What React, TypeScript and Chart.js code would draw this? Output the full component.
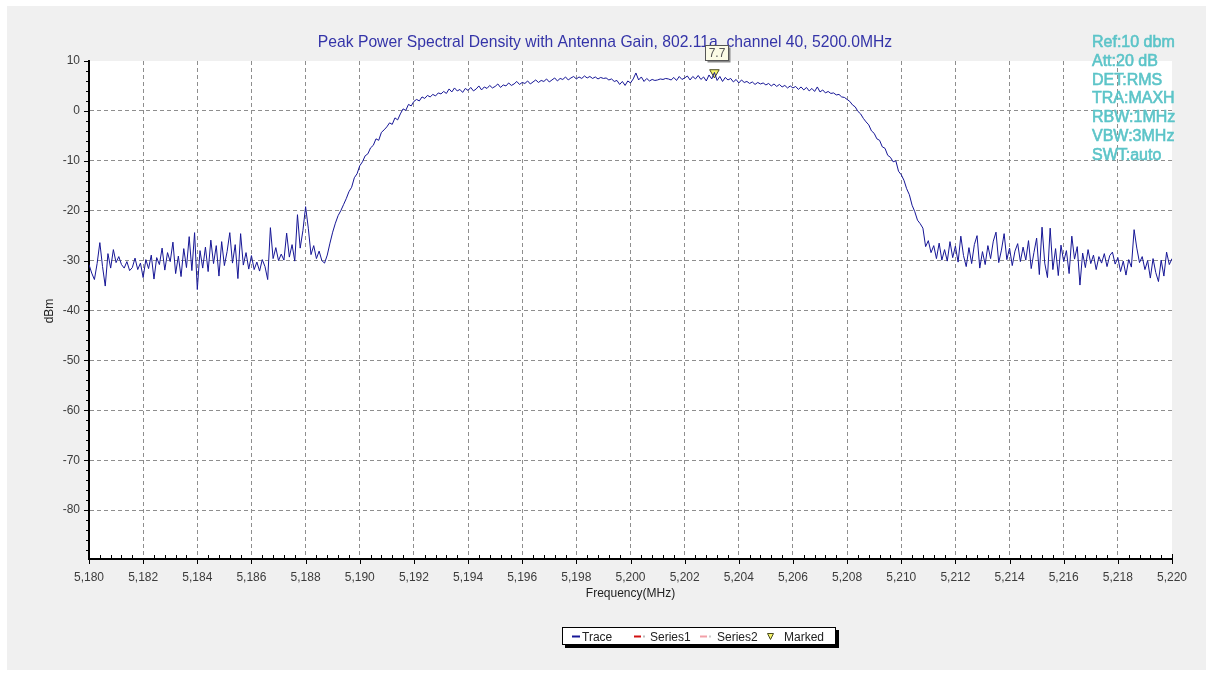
import React, { useEffect, useRef } from "react";
import { Chart, registerables } from "chart.js";

Chart.register(...registerables);

// ---------------- DATA ----------------
const FREQ_START = 5180; // MHz, first sweep point
const FREQ_STEP = 0.1; // MHz between sweep points

// 5180.0 – 5188.9 MHz (out-of-band noise, left)
const spurBandLeft = [
  -30.8, -32.5, -33.8, -30.6, -26.4, -31.2, -35.1, -28.6, -31.5, -27.8,
  -30.4, -29.2, -30.8, -31.5, -30.2, -32.0, -31.4, -29.5, -31.8, -30.5,
  -33.4, -29.8, -31.6, -28.9, -33.7, -29.4, -30.8, -27.5, -31.9, -28.4,
  -30.2, -26.3, -32.6, -29.1, -33.2, -27.6, -31.4, -25.2, -32.0, -24.4,
  -35.8, -28.0, -31.5, -27.3, -32.2, -25.9, -30.6, -27.0, -33.1, -26.2,
  -31.0, -28.2, -24.4, -30.5, -26.8, -33.6, -24.6, -30.9, -28.4, -31.7,
  -29.0, -31.8, -30.3, -32.1, -29.8, -31.2, -33.8, -23.4, -29.6, -27.4,
  -30.0, -28.7, -29.9, -24.5, -29.3, -26.8, -30.1, -20.8, -27.5, -24.0,
  -19.2, -23.5, -28.8, -27.0, -29.6, -28.1, -30.0, -30.5, -28.9, -26.5,
];

// 5189.0 – 5192.0 MHz (rising edge)
const risingEdge = [
  -24.3, -22.5, -21.0, -20.0, -18.8, -17.6, -16.2, -15.3, -13.4, -12.6,
  -11.0, -10.2, -9.0, -8.6, -7.4, -6.9, -5.6, -5.9, -4.3, -3.8,
  -3.2, -2.4, -2.7, -1.4, -1.8, -0.6, 0.4, 0.1, 1.3, 1.0,
  1.9,
];

// 5192.1 – 5208.0 MHz (in-band)
const inBand = [
  2.3, 2.0, 2.8, 2.5, 3.1, 2.8, 3.3, 3.0, 3.6, 3.4,
  3.9, 3.5, 4.4, 3.8, 4.6, 4.0, 4.3, 3.7, 4.5, 4.1,
  4.7, 4.0, 4.4, 5.0, 4.2, 4.8, 4.5, 5.1, 4.6, 4.9,
  5.4, 4.7, 5.2, 5.0, 5.6, 5.1, 5.4, 5.9, 5.3, 5.7,
  5.5, 6.0, 5.4, 5.8, 6.2, 5.7, 6.1, 5.9, 6.4, 5.8,
  6.2, 6.6, 6.0, 6.5, 6.3, 6.8, 6.2, 6.6, 6.9, 6.4,
  6.8, 6.5, 7.0, 6.6, 6.9, 6.5, 6.8, 6.4, 6.7, 6.5,
  6.6, 6.2, 6.4, 5.9, 6.1, 5.3, 5.9, 5.1, 6.0, 5.6,
  6.4, 7.6, 6.2, 6.8, 5.9, 6.5, 6.0, 6.3, 6.1, 6.2,
  6.4, 6.3, 6.5, 6.4, 6.2, 6.7, 6.1, 6.9, 6.3, 6.6,
  7.0, 6.2, 6.9, 6.4, 7.1, 6.3, 6.8, 6.0, 7.2, 6.4,
  7.7, 6.1, 6.9, 5.9, 6.7, 6.2, 6.5, 5.8, 6.3, 5.6,
  6.2, 5.7, 5.9, 5.5, 5.8, 5.3, 5.7, 5.4, 5.6, 5.2,
  5.5, 5.0, 5.4, 4.9, 5.3, 4.8, 5.1, 4.6, 5.0, 4.6,
  4.9, 4.3, 4.8, 4.2, 4.7, 4.0, 4.5, 3.9, 4.8, 3.8,
  4.2, 3.6, 3.9, 3.5, 3.6, 3.2, 3.3, 2.8, 2.7, 2.3,
];

// 5208.1 – 5211.0 MHz (falling edge)
const fallingEdge = [
  1.9, 1.2, 0.8, -0.1, -0.6, -1.5, -2.2, -2.8, -4.0, -4.5,
  -5.6, -5.9, -7.2, -7.5, -8.9, -9.3, -10.2, -10.0, -12.1, -12.8,
  -13.9, -15.6, -16.8, -18.9, -20.2, -21.9, -22.6, -23.5, -27.2, -26.0,
];

// 5211.1 – 5220.0 MHz (out-of-band noise, right)
const spurBandRight = [
  -28.4, -27.0, -29.6, -26.5, -29.9, -27.8, -30.1, -26.2, -29.4, -27.1,
  -30.3, -25.1, -29.0, -31.2, -27.4, -30.6, -26.8, -25.0, -31.5, -28.2,
  -30.8, -27.0, -29.6, -26.1, -24.3, -30.4, -27.9, -24.6, -29.8, -27.5,
  -31.0, -28.1, -26.6, -30.2, -27.3, -29.9, -26.0, -31.6, -28.4, -25.5,
  -32.8, -23.3, -30.5, -33.4, -23.5, -31.8, -27.6, -33.0, -26.9, -30.2,
  -28.0, -32.6, -25.1, -29.7, -27.2, -34.9, -28.5, -31.4, -27.8, -30.6,
  -28.9, -31.8, -29.2, -30.5, -28.6, -31.2, -29.0, -28.3, -30.7, -29.4,
  -32.2, -30.1, -32.9, -29.8, -31.3, -23.8, -27.5, -30.4, -29.2, -31.8,
  -30.0, -33.5, -29.6, -32.4, -34.2, -29.9, -33.1, -28.3, -30.8, -29.6,
];

const MARKER_FREQ = [5203.1];
const MARKER_DBM = [7.7];

const X_TICKS = [
  5180, 5182, 5184, 5186, 5188, 5190, 5192, 5194, 5196, 5198, 5200,
  5202, 5204, 5206, 5208, 5210, 5212, 5214, 5216, 5218, 5220,
];
const Y_TICKS = [10, 0, -10, -20, -30, -40, -50, -60, -70, -80];
const X_MIN = 5180;
const X_MAX = 5220;
const Y_MIN = -89.8;
const Y_MAX = 10;

const TITLE =
  "Peak Power Spectral Density with Antenna Gain, 802.11a, channel 40, 5200.0MHz";
const X_TITLE = "Frequency(MHz)";
const Y_TITLE = "dBm";
const INFO_LINES = [
  "Ref:10 dbm",
  "Att:20 dB",
  "DET:RMS",
  "TRA:MAXH",
  "RBW:1MHz",
  "VBW:3MHz",
  "SWT:auto",
];
const LEGEND_ITEMS = ["Trace", "Series1", "Series2", "Marked"];

// ---------------- STYLE ----------------
const FONT = "'Liberation Sans', Arial, Helvetica, sans-serif";
const OX = 7;
const OY = 6;
const CANVAS_W = 1199;
const CANVAS_H = 664;
const TRACE_COLOR = "#161696";

function buildTrace() {
  const values = [
    ...spurBandLeft,
    ...risingEdge,
    ...inBand,
    ...fallingEdge,
    ...spurBandRight,
  ];
  return values.map((v, i) => ({
    x: Math.round((FREQ_START + i * FREQ_STEP) * 10) / 10,
    y: v,
  }));
}

function drawTriangleDown(ctx: CanvasRenderingContext2D, cx: number, cy: number, w: number, h: number) {
  ctx.beginPath();
  ctx.moveTo(cx - w / 2, cy - h / 2);
  ctx.lineTo(cx + w / 2, cy - h / 2);
  ctx.lineTo(cx, cy + h / 2);
  ctx.closePath();
  ctx.fillStyle = "#f4f46a";
  ctx.fill();
  ctx.strokeStyle = "#4a4a20";
  ctx.lineWidth = 1;
  ctx.stroke();
}

const decorPlugin = {
  id: "decor",
  beforeDraw(chart: any) {
    const { ctx, width, height, chartArea: a } = chart;
    ctx.save();
    ctx.fillStyle = "#f0f0f0";
    ctx.fillRect(0, 0, width, height);
    ctx.fillStyle = "#ffffff";
    ctx.fillRect(a.left, a.top, a.right - a.left, a.bottom - a.top);
    ctx.restore();
  },
  afterDraw(chart: any) {
    const { ctx, chartArea: a, scales } = chart;
    const xs = scales.x;
    const ys = scales.y;
    ctx.save();

    // tick marks
    ctx.strokeStyle = "#000";
    ctx.lineWidth = 1;
    ctx.beginPath();
    X_TICKS.forEach((v, i) => {
      const px = Math.round(xs.getPixelForValue(v)) + 0.5;
      ctx.moveTo(px, a.bottom);
      ctx.lineTo(px, a.bottom + 5);
      if (i < X_TICKS.length - 1) {
        const next = X_TICKS[i + 1];
        for (let k = 1; k < 5; k++) {
          const mx = Math.round(xs.getPixelForValue(v + ((next - v) * k) / 5)) + 0.5;
          ctx.moveTo(mx, a.bottom);
          ctx.lineTo(mx, a.bottom - 4);
        }
      }
    });
    const endX = Math.round(xs.getPixelForValue(X_MAX)) + 0.5;
    ctx.moveTo(endX, a.bottom);
    ctx.lineTo(endX, a.bottom - 5);
    Y_TICKS.forEach((v) => {
      const py = Math.round(ys.getPixelForValue(v)) + 0.5;
      ctx.moveTo(a.left - 5, py);
      ctx.lineTo(a.left, py);
    });
    for (let v = Y_MAX - 2; v > Y_MIN; v -= 2) {
      if (v % 10 === 0) continue;
      const py = Math.round(ys.getPixelForValue(v)) + 0.5;
      ctx.moveTo(a.left - 3, py);
      ctx.lineTo(a.left, py);
    }
    ctx.stroke();

    // title
    ctx.font = `15.7px ${FONT}`;
    ctx.fillStyle = "#3434a8";
    ctx.textAlign = "center";
    ctx.textBaseline = "middle";
    ctx.fillText(TITLE, 605 - OX, 43 - OY);

    // axis titles
    ctx.font = `12px ${FONT}`;
    ctx.fillStyle = "#222";
    ctx.fillText(X_TITLE, (a.left + a.right) / 2, 594 - OY);
    ctx.save();
    ctx.translate(50 - OX, 311 - OY);
    ctx.rotate(-Math.PI / 2);
    ctx.fillText(Y_TITLE, 0, 0);
    ctx.restore();

    // instrument settings
    ctx.font = `16px ${FONT}`;
    ctx.fillStyle = "#5cc4c8";
    ctx.strokeStyle = "#5cc4c8";
    ctx.lineWidth = 0.6;
    ctx.textAlign = "left";
    ctx.textBaseline = "alphabetic";
    INFO_LINES.forEach((t, i) => {
      ctx.fillText(t, 1092 - OX, 47 - OY + i * 18.8);
      ctx.strokeText(t, 1092 - OX, 47 - OY + i * 18.8);
    });

    // marker value box
    const meta = chart.getDatasetMeta(3);
    const pt = meta && meta.data && meta.data[0];
    if (pt) {
      const bx = Math.round(pt.x - 9) + 0.5;
      const by = Math.round(pt.y - 27) + 0.5;
      const bw = 23;
      const bh = 15;
      ctx.fillStyle = "#8a8a8a";
      ctx.fillRect(bx + 2, by + 2, bw, bh);
      ctx.fillStyle = "#fbfbe6";
      ctx.fillRect(bx, by, bw, bh);
      ctx.strokeStyle = "#555";
      ctx.lineWidth = 1;
      ctx.strokeRect(bx, by, bw, bh);
      ctx.font = `12px ${FONT}`;
      ctx.fillStyle = "#555";
      ctx.textAlign = "center";
      ctx.textBaseline = "middle";
      ctx.fillText(MARKER_DBM[0].toFixed(1), bx + bw / 2, by + bh / 2 + 1);
    }

    // legend
    const lx = 562 - OX;
    const ly = 627 - OY;
    const lw = 274;
    const lh = 18;
    ctx.fillStyle = "#000";
    ctx.fillRect(lx + 3, ly + 3, lw, lh);
    ctx.fillStyle = "#fff";
    ctx.fillRect(lx, ly, lw, lh);
    ctx.strokeStyle = "#000";
    ctx.lineWidth = 1;
    ctx.strokeRect(lx + 0.5, ly + 0.5, lw - 1, lh - 1);
    const cy = ly + 9.5;
    const base = 641 - OY;
    ctx.font = `12px ${FONT}`;
    ctx.textAlign = "left";
    ctx.textBaseline = "alphabetic";
    // Trace
    ctx.strokeStyle = TRACE_COLOR;
    ctx.lineWidth = 2;
    ctx.beginPath();
    ctx.moveTo(572 - OX, cy);
    ctx.lineTo(580 - OX, cy);
    ctx.stroke();
    ctx.fillStyle = "#222";
    ctx.fillText(LEGEND_ITEMS[0], 582 - OX, base);
    // Series1
    ctx.strokeStyle = "#d01010";
    ctx.beginPath();
    ctx.moveTo(634 - OX, cy);
    ctx.lineTo(641 - OX, cy);
    ctx.stroke();
    ctx.fillStyle = "#bbb";
    ctx.fillRect(643 - OX, cy - 1, 2, 2);
    ctx.fillStyle = "#222";
    ctx.fillText(LEGEND_ITEMS[1], 650 - OX, base);
    // Series2
    ctx.strokeStyle = "#f2a0a8";
    ctx.beginPath();
    ctx.moveTo(700 - OX, cy);
    ctx.lineTo(707 - OX, cy);
    ctx.stroke();
    ctx.fillStyle = "#ccc";
    ctx.fillRect(709 - OX, cy - 1, 2, 2);
    ctx.fillStyle = "#222";
    ctx.fillText(LEGEND_ITEMS[2], 717 - OX, base);
    // Marked
    drawTriangleDown(ctx, 770.5 - OX, cy, 6, 6);
    ctx.fillStyle = "#222";
    ctx.fillText(LEGEND_ITEMS[3], 784 - OX, base);

    ctx.restore();
  },
};

const tickFont = { family: FONT, size: 12 };

function gridColorX(c: any) {
  const v = c.tick ? c.tick.value : null;
  return v === X_MIN || v === X_MAX ? "rgba(0,0,0,0)" : "#8e8e8e";
}
function gridColorY(c: any) {
  const v = c.tick ? c.tick.value : null;
  return v === Y_MAX ? "rgba(0,0,0,0)" : "#8e8e8e";
}

export default function App() {
  const ref = useRef<HTMLCanvasElement>(null);

  useEffect(() => {
    if (!ref.current) return;
    const chart = new Chart(ref.current, {
      type: "line",
      data: {
        datasets: [
          {
            label: LEGEND_ITEMS[0],
            data: buildTrace(),
            borderColor: TRACE_COLOR,
            backgroundColor: TRACE_COLOR,
            borderWidth: 1,
            pointRadius: 0,
            tension: 0,
            fill: false,
          },
          {
            label: LEGEND_ITEMS[1],
            data: [],
            borderColor: "#d01010",
            borderDash: [5, 2],
            pointRadius: 0,
          },
          {
            label: LEGEND_ITEMS[2],
            data: [],
            borderColor: "#f2a0a8",
            borderDash: [5, 2],
            pointRadius: 0,
          },
          {
            label: LEGEND_ITEMS[3],
            data: MARKER_FREQ.map((f, i) => ({ x: f, y: MARKER_DBM[i] })),
            showLine: false,
            pointStyle: "triangle",
            rotation: 180,
            pointRadius: 5.5,
            pointBackgroundColor: "#f4f46a",
            pointBorderColor: "#4a4a20",
            pointBorderWidth: 1,
            clip: false as any,
          },
        ],
      },
      options: {
        responsive: false,
        maintainAspectRatio: false,
        animation: false,
        devicePixelRatio: 1,
        layout: { padding: { top: 55, right: 34, bottom: 71, left: 0 } },
        plugins: {
          legend: { display: false },
          title: { display: false },
          tooltip: { enabled: false },
        },
        events: [],
        scales: {
          x: {
            type: "linear",
            min: X_MIN,
            max: X_MAX,
            afterBuildTicks: (axis: any) => {
              axis.ticks = X_TICKS.map((v) => ({ value: v }));
            },
            afterFit: (axis: any) => {
              axis.height = 40;
            },
            ticks: {
              autoSkip: false,
              maxRotation: 0,
              minRotation: 0,
              padding: 11,
              color: "#3c3c3c",
              font: tickFont,
              callback: (v: any) => Number(v).toLocaleString("en-US"),
            },
            grid: {
              drawTicks: false,
              color: gridColorX,
              lineWidth: 1,
            },
            border: { display: true, color: "#000", width: 2, dash: [4, 3] },
          },
          y: {
            type: "linear",
            min: Y_MIN,
            max: Y_MAX,
            afterBuildTicks: (axis: any) => {
              axis.ticks = Y_TICKS.map((v) => ({ value: v }));
            },
            afterFit: (axis: any) => {
              axis.width = 82;
            },
            ticks: {
              padding: 9,
              color: "#3c3c3c",
              font: tickFont,
            },
            grid: {
              drawTicks: false,
              color: gridColorY,
              lineWidth: 1,
            },
            border: { display: true, color: "#000", width: 2, dash: [4, 3] },
          },
        },
      },
      plugins: [decorPlugin],
    } as any);
    return () => chart.destroy();
  }, []);

  return (
    <div
      style={{
        position: "absolute",
        left: OX,
        top: OY,
        width: CANVAS_W,
        height: CANVAS_H,
      }}
    >
      <canvas
        ref={ref}
        width={CANVAS_W}
        height={CANVAS_H}
        style={{ display: "block", width: CANVAS_W, height: CANVAS_H }}
      />
    </div>
  );
}
